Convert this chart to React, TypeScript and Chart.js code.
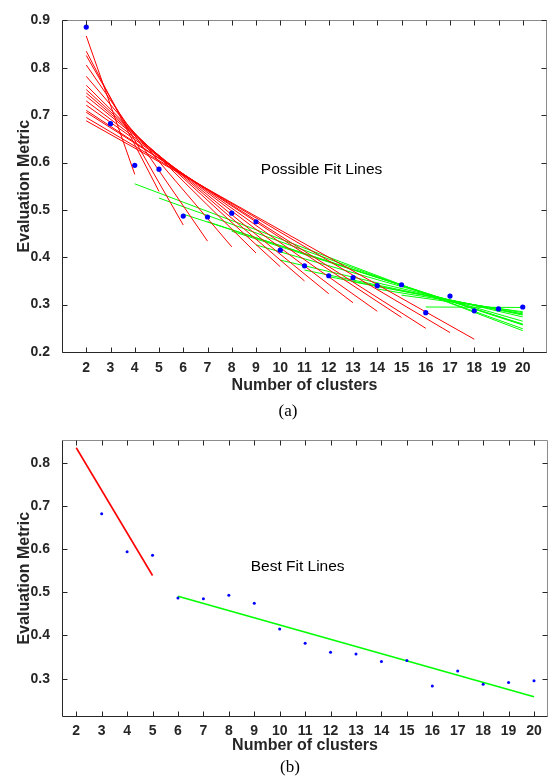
import React, { useEffect, useRef } from "react";
import { Chart, registerables } from "chart.js";

Chart.register(...registerables);

// ---------- data ----------
const clusters = [2, 3, 4, 5, 6, 7, 8, 9, 10, 11, 12, 13, 14, 15, 16, 17, 18, 19, 20];
const metric = [0.886, 0.682, 0.594, 0.586, 0.487, 0.485, 0.493, 0.475, 0.415, 0.382, 0.361, 0.357, 0.34, 0.342, 0.283, 0.318, 0.287, 0.291, 0.295];

// (a) possible fit lines: red lines start at x = 2, end at redEndX
const redStartX = 2;
const redEndX = [4, 5, 6, 7, 8, 9, 10, 11, 12, 13, 14, 15, 16, 17, 18];
const redStartY = [0.867, 0.835, 0.826, 0.806, 0.782, 0.763, 0.754, 0.747, 0.74, 0.73, 0.721, 0.71, 0.706, 0.695, 0.688];
const redEndY = [0.575, 0.539, 0.468, 0.434, 0.422, 0.409, 0.38, 0.35, 0.323, 0.304, 0.286, 0.273, 0.25, 0.241, 0.227];

// green lines start at greenStartX, end at x = 20
const greenEndX = 20;
const greenStartX = [4, 5, 6, 7, 8, 9, 10, 11, 12, 13, 14, 15, 16];
const greenStartY = [0.555, 0.525, 0.491, 0.475, 0.455, 0.426, 0.394, 0.373, 0.359, 0.348, 0.333, 0.32, 0.295];
const greenEndY = [0.245, 0.249, 0.258, 0.257, 0.259, 0.265, 0.274, 0.278, 0.28, 0.28, 0.283, 0.285, 0.294];

// (b) best fit lines
const bestRedX = [2, 5];
const bestRedY = [0.835, 0.539];
const bestGreenX = [6, 20];
const bestGreenY = [0.491, 0.258];

// ticks
const xTicks = [2, 3, 4, 5, 6, 7, 8, 9, 10, 11, 12, 13, 14, 15, 16, 17, 18, 19, 20];
const yTicksA = [0.2, 0.3, 0.4, 0.5, 0.6, 0.7, 0.8, 0.9];
const yTicksB = [0.3, 0.4, 0.5, 0.6, 0.7, 0.8];

// ---------- style ----------
const SANS = "'Liberation Sans', Arial, Helvetica, sans-serif";
const SERIF = "'Liberation Serif', 'Times New Roman', serif";
const TEXT = "#262626";
const RED = "#ff0000";
const GREEN = "#00ff00";
const BLUE = "#0000ff";

function framePlugin() {
  return {
    id: "frame",
    afterDatasetsDraw(chart: any) {
      const { ctx, chartArea, scales } = chart;
      const L = Math.floor(chartArea.left) + 0.5;
      const R = Math.floor(chartArea.right) - 0.5;
      const T = Math.floor(chartArea.top) + 0.5;
      const B = Math.floor(chartArea.bottom) + 0.5;
      ctx.save();
      ctx.lineWidth = 1;
      ctx.strokeStyle = "#8c8c8c";
      ctx.beginPath();
      ctx.moveTo(L, T);
      ctx.lineTo(R, T);
      ctx.lineTo(R, B);
      ctx.stroke();
      ctx.strokeStyle = TEXT;
      ctx.beginPath();
      ctx.moveTo(L, T);
      ctx.lineTo(L, B);
      ctx.lineTo(R, B);
      ctx.stroke();
      const len = 5;
      ctx.beginPath();
      for (const t of scales.x.ticks) {
        const px = Math.round(scales.x.getPixelForValue(t.value)) + 0.5;
        ctx.moveTo(px, B);
        ctx.lineTo(px, B - len);
        ctx.moveTo(px, T);
        ctx.lineTo(px, T + len);
      }
      for (const t of scales.y.ticks) {
        const py = Math.round(scales.y.getPixelForValue(t.value)) + 0.5;
        ctx.moveTo(L, py);
        ctx.lineTo(L + len, py);
        ctx.moveTo(R, py);
        ctx.lineTo(R - len, py);
      }
      ctx.stroke();
      ctx.restore();
    },
  };
}

function notePlugin(text: string, x: number, y: number) {
  return {
    id: "note",
    afterDatasetsDraw(chart: any) {
      const { ctx, scales } = chart;
      ctx.save();
      ctx.font = `15.5px ${SANS}`;
      ctx.fillStyle = "#000000";
      ctx.textAlign = "left";
      ctx.textBaseline = "middle";
      ctx.fillText(text, scales.x.getPixelForValue(x), scales.y.getPixelForValue(y));
      ctx.restore();
    },
  };
}

function seg(xs: number[], ys: number[], color: string, width: number, order: number) {
  return {
    type: "scatter",
    data: xs.map((x, i) => ({ x, y: ys[i] })),
    showLine: true,
    borderColor: color,
    backgroundColor: color,
    borderWidth: width,
    pointRadius: 0,
    order,
  };
}

function buildOptions(p: any) {
  return {
    responsive: false,
    animation: false,
    events: [],
    layout: { padding: { left: 0, right: p.padRight, top: p.padTop, bottom: 0 } },
    plugins: { legend: { display: false }, tooltip: { enabled: false } },
    scales: {
      x: {
        type: "linear",
        min: p.xMin,
        max: p.xMax,
        afterBuildTicks: (s: any) => {
          s.ticks = xTicks.map((v) => ({ value: v }));
        },
        afterFit: (s: any) => {
          s.height = p.xAxisHeight;
        },
        grid: { display: false, drawTicks: false },
        border: { display: false },
        ticks: {
          color: TEXT,
          font: { family: SANS, size: 14, weight: "bold" },
          padding: p.xTickPad,
          maxRotation: 0,
          autoSkip: false,
          callback: (v: any) => String(v),
        },
        title: {
          display: true,
          text: "Number of clusters",
          color: TEXT,
          font: { family: SANS, size: 16, weight: "bold" },
          padding: { top: 0, bottom: p.xTitlePad },
        },
      },
      y: {
        type: "linear",
        min: p.yMin,
        max: p.yMax,
        afterBuildTicks: (s: any) => {
          s.ticks = p.yTicks.map((v: number) => ({ value: v }));
        },
        afterFit: (s: any) => {
          s.width = 62;
        },
        grid: { display: false, drawTicks: false },
        border: { display: false },
        ticks: {
          color: TEXT,
          font: { family: SANS, size: 14, weight: "bold" },
          padding: 12,
          autoSkip: false,
          callback: (v: any) => Number(v).toFixed(1),
        },
        title: {
          display: true,
          text: "Evaluation Metric",
          color: TEXT,
          font: { family: SANS, size: 16, weight: "bold" },
          padding: { top: 15, bottom: 0 },
        },
      },
    },
  };
}

function ChartA() {
  const ref = useRef<HTMLCanvasElement>(null);
  useEffect(() => {
    const datasets: any[] = [
      {
        type: "scatter",
        data: clusters.map((x, i) => ({ x, y: metric[i] })),
        pointRadius: 2.6,
        pointBackgroundColor: BLUE,
        pointBorderWidth: 0,
        showLine: false,
        order: 0,
      },
    ];
    redEndX.forEach((ex, i) => datasets.push(seg([redStartX, ex], [redStartY[i], redEndY[i]], RED, 1, 1)));
    greenStartX.forEach((sx, i) => datasets.push(seg([sx, greenEndX], [greenStartY[i], greenEndY[i]], GREEN, 1, 2)));
    const chart = new Chart(ref.current as HTMLCanvasElement, {
      type: "scatter",
      data: { datasets },
      options: buildOptions({
        xMin: 1, xMax: 21, yMin: 0.2, yMax: 0.9, yTicks: yTicksA,
        padTop: 14, padRight: 5, xAxisHeight: 48, xTickPad: 8, xTitlePad: 5,
      }) as any,
      plugins: [framePlugin(), notePlugin("Possible Fit Lines", 9.2, 0.584)],
    } as any);
    return () => chart.destroy();
  }, []);
  return (
    <canvas ref={ref} width={552} height={400} style={{ position: "absolute", left: 0, top: 0, width: 552, height: 400 }} />
  );
}

function ChartB() {
  const ref = useRef<HTMLCanvasElement>(null);
  useEffect(() => {
    const datasets: any[] = [
      {
        type: "scatter",
        data: clusters.map((x, i) => ({ x, y: metric[i] })),
        pointRadius: 1.5,
        pointBackgroundColor: BLUE,
        pointBorderWidth: 0,
        showLine: false,
        order: 0,
      },
      seg(bestRedX, bestRedY, RED, 1.6, 1),
      seg(bestGreenX, bestGreenY, GREEN, 1.6, 2),
    ];
    const chart = new Chart(ref.current as HTMLCanvasElement, {
      type: "scatter",
      data: { datasets },
      options: buildOptions({
        xMin: 1.44, xMax: 20.55, yMin: 0.2135, yMax: 0.852, yTicks: yTicksB,
        padTop: 19, padRight: 3, xAxisHeight: 44, xTickPad: 7, xTitlePad: 5,
      }) as any,
      plugins: [framePlugin(), notePlugin("Best Fit Lines", 8.86, 0.56)],
    } as any);
    return () => chart.destroy();
  }, []);
  return (
    <canvas ref={ref} width={552} height={340} style={{ position: "absolute", left: 0, top: 420, width: 552, height: 340 }} />
  );
}

const labelStyle: React.CSSProperties = {
  position: "absolute",
  fontFamily: SERIF,
  fontSize: 17,
  color: "#000",
  transform: "translate(-50%, -50%)",
  lineHeight: "20px",
  whiteSpace: "nowrap",
};

export default function App() {
  return (
    <div style={{ position: "absolute", left: 0, top: 0, width: 552, height: 777, background: "#fff", overflow: "hidden" }}>
      <ChartA />
      <ChartB />
      <div style={{ ...labelStyle, left: 288, top: 411 }}>(a)</div>
      <div style={{ ...labelStyle, left: 290, top: 767 }}>(b)</div>
    </div>
  );
}
